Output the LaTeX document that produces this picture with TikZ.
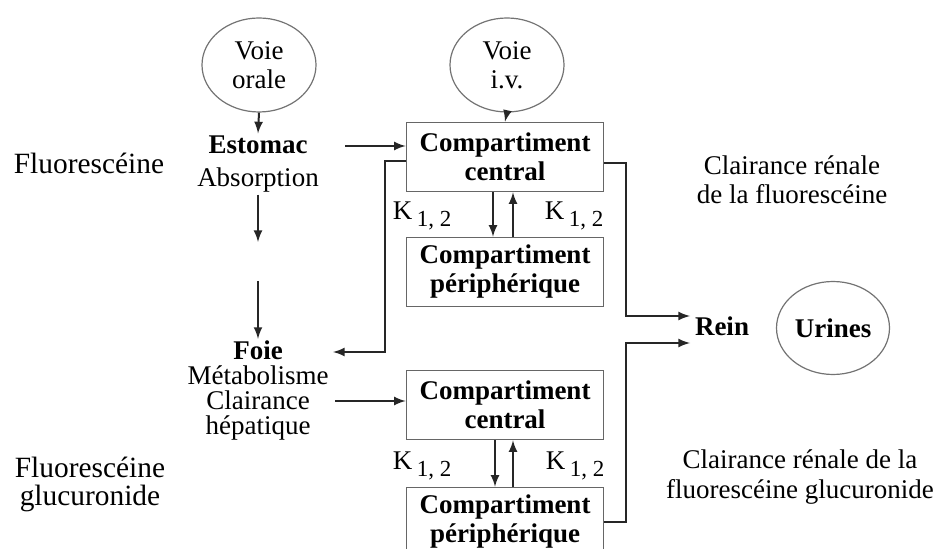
\documentclass[tikz,border=0pt]{standalone}
\usepackage{fontspec}
\setmainfont{Liberation Serif}
\usetikzlibrary{shapes.geometric}

\newcommand{\kdouze}{K\,\raisebox{-3.5pt}{\fontsize{11.5}{11.5}\selectfont 1, 2}}

\tikzset{
  voie/.style={ellipse, draw=black!55, line width=0.6pt, minimum width=57pt, minimum height=47pt, inner sep=0pt, align=center},
  compbox/.style={draw=black!60, line width=0.8pt, minimum width=98.5pt, minimum height=34.5pt, inner sep=0pt, align=center, font=\fontsize{13.5}{14.5}\selectfont\bfseries},
  lbl/.style={align=center, inner sep=1pt},
  flux/.style={-latex, line width=1pt, draw=black!85}
}

\begin{document}
\begin{tikzpicture}[x=0.5pt, y=-0.5pt, font=\fontsize{13.5}{14.5}\selectfont]
		\clip (0,0) rectangle (935,549);

		% voies d'administration
		\node[voie] (orale) at (259,65) {Voie\\orale};
		\node[voie] (iv) at (507,65) {Voie\\i.v.};

		% colonne de gauche
		\node[lbl, font=\fontsize{13.5}{16.5}\selectfont] (estomac) at (258,164) {\textbf{Estomac}\\Absorption};
		\node[lbl, font=\fontsize{13.5}{12.5}\selectfont] (foie) at (258,391) {\textbf{Foie}\\Métabolisme\\Clairance\\hépatique};

		\node[lbl, font=\fontsize{14.7}{14.5}\selectfont] (fluo) at (89,163) {Fluorescéine};
		\node[lbl, font=\fontsize{14.7}{14}\selectfont] (gluc) at (90,484) {Fluorescéine\\glucuronide};

		% compartiments
		\node[compbox] (cc1) at (505,157) {Compartiment\\central};
		\node[compbox] (cp1) at (505,272) {Compartiment\\périphérique};
		\node[compbox] (cc2) at (505,405) {Compartiment\\central};
		\node[compbox] (cp2) at (505,522) {Compartiment\\périphérique};

		\node[lbl] (k1) at (422,216) {\kdouze};
		\node[lbl] (k2) at (574,216) {\kdouze};
		\node[lbl] (k3) at (422,466) {\kdouze};
		\node[lbl] (k4) at (575,466) {\kdouze};

		% elimination
		\node[lbl] (rein) at (722,326) {\textbf{Rein}};
		\node[voie, minimum width=56.5pt, minimum height=46.5pt] (urines) at (833,328) {\textbf{Urines}};

		\node[lbl, font=\fontsize{13.5}{14.5}\selectfont] (cr1) at (792,180) {Clairance rénale\\de la fluorescéine};
		\node[lbl, font=\fontsize{13.5}{15}\selectfont] (cr2) at (800,477) {Clairance rénale de la\\fluorescéine glucuronide};

		\coordinate (a1) at (258,242);
		\coordinate (a2) at (258,281);
		\coordinate (e1) at (345,146);
		\coordinate (e2) at (335,401);
		\coordinate (f1) at (333,352);
		\coordinate (r1) at (690,316);
		\coordinate (r2) at (690,343);

		\draw[flux] (orale.south) -- (estomac.north);
		\draw[flux] (iv.south) -- (cc1.north);
		\draw[flux] (estomac.south) -- (a1);
		\draw[flux] (a2) -- (foie.north);

		\draw[flux] (e1) -- (e1 -| cc1.west);
		\draw[flux] ([yshift=-2pt]cc1.west) -- ++(-21,0) |- (f1);
		\draw[flux] ([yshift=-3pt]cc1.east) -- ++(22,0) |- (r1);

		\draw[flux] ([xshift=-6pt]cc1.south) -- ([xshift=-6pt]cp1.north);
		\draw[flux] ([xshift=4pt]cp1.north) -- ([xshift=4pt]cc1.south);

		\draw[flux] (e2) -- (e2 -| cc2.west);
		\draw[flux] ([xshift=-5pt]cc2.south) -- ([xshift=-5pt]cp2.north);
		\draw[flux] ([xshift=4pt]cp2.north) -- ([xshift=4pt]cc2.south);
		\draw[flux] (cp2.east) -- ++(22,0) |- (r2);
	\end{tikzpicture}
\end{document}
